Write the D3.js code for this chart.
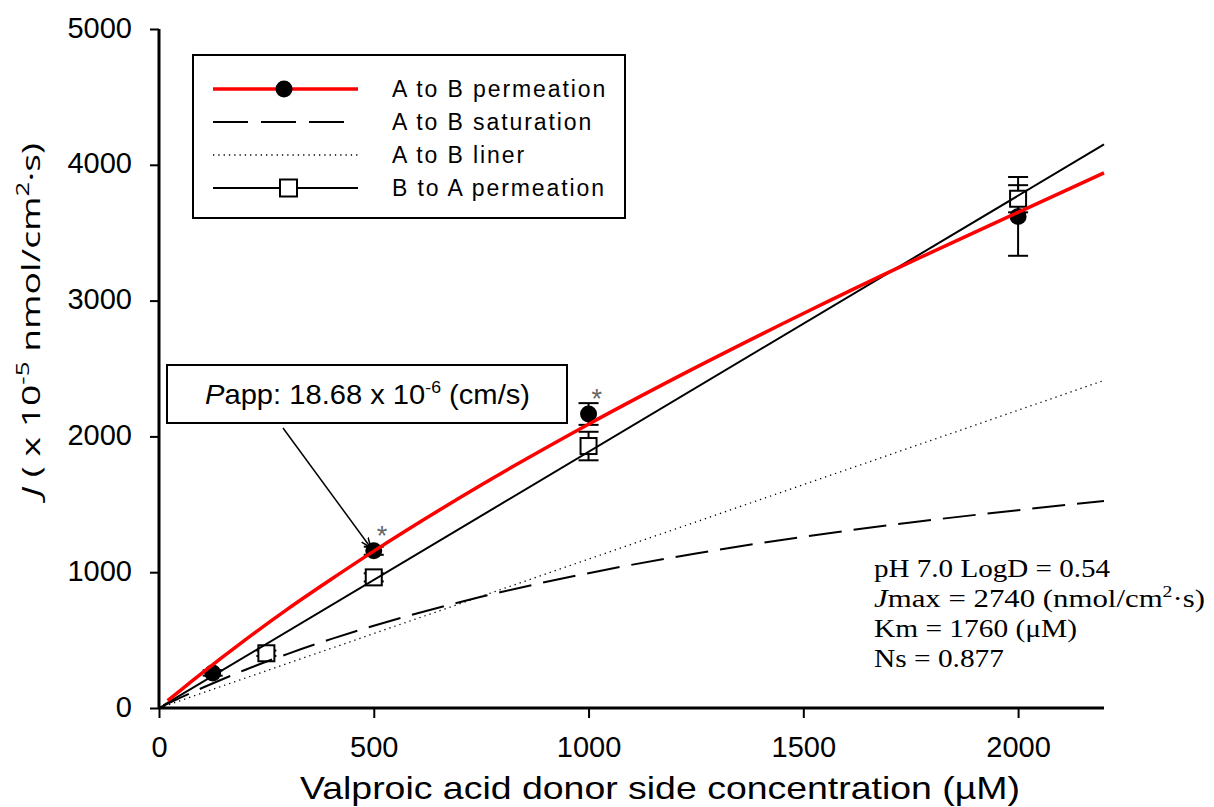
<!DOCTYPE html>
<html><head><meta charset="utf-8">
<script src="https://cdn.jsdelivr.net/npm/d3@7"></script>
<style>
body{margin:0;background:#fff;}
svg{display:block;}
</style></head>
<body>
<svg id="chart" width="1214" height="807"></svg>
<script>
// ---- data ----
const xTicks = [0, 500, 1000, 1500, 2000];
const yTicks = [0, 1000, 2000, 3000, 4000, 5000];

// A to B permeation (measured, filled circles)
const abConc = [125, 500, 1000, 2000];
const abJ    = [258, 1158, 2165, 3620];
const abErr  = [20, 30, 80, 290];

// B to A permeation (measured, open squares)
const baConc = [250, 500, 1000, 2000];
const baJ    = [403, 962, 1929, 3750];
const baErr  = [20, 30, 105, 100];

// A to B permeation fitted curve (red)
const fitConc = [20, 50, 100, 200, 300, 400, 500, 750, 1000, 1250, 1500, 1750, 2000, 2200];
const fitJ    = [55, 130, 257, 500, 730, 946, 1155, 1642, 2090, 2508, 2905, 3285, 3650, 3940];

// A to B saturation (dashed)
const satConc = [0, 50, 100, 200, 300, 400, 500, 750, 1000, 1250, 1500, 1750, 2000, 2200];
const satJ    = [0, 76, 147, 280, 399, 507, 606, 819, 993, 1138, 1261, 1366, 1457, 1525];

// A to B liner (dotted)
const linConc = [0, 2200];
const linJ    = [0, 2412];

// B to A permeation line
const baLineConc = [10, 2200];
const baLineJ    = [19, 4150];

const legendLabels = ["A to B permeation", "A to B saturation", "A to B liner", "B to A permeation"];

// ---- drawing ----
const svg = d3.select("#chart");
const x = d3.scaleLinear().domain([0, 2200]).range([159, 1104]);
const y = d3.scaleLinear().domain([0, 5000]).range([708, 29]);
const sans = "'Liberation Sans', Arial, sans-serif";
const serif = "'Liberation Serif', 'Times New Roman', serif";

// axes
const xAxis = svg.append("g").attr("transform", "translate(0,708)")
  .call(d3.axisBottom(x).tickValues(xTicks).tickSize(10).tickPadding(10).tickFormat(d3.format("d")));
const yAxis = svg.append("g").attr("transform", "translate(159,0)")
  .call(d3.axisLeft(y).tickValues(yTicks).tickSize(9).tickPadding(18).tickFormat(d3.format("d")));
[xAxis, yAxis].forEach(a => {
  a.select(".domain").attr("stroke", "#000").attr("stroke-width", 3);
  a.selectAll(".tick line").attr("stroke", "#000").attr("stroke-width", 2);
  a.selectAll(".tick text").attr("fill", "#000").attr("font-family", sans).attr("font-size", 29);
});
xAxis.select(".domain").attr("d", `M${x(0)},0H${x(2200)}`);
yAxis.select(".domain").attr("d", `M0,${y(0)}V${y(5000)}`);
yAxis.selectAll(".tick text").attr("dy", "0.28em");
xAxis.selectAll(".tick text").attr("dy", "1.0em");

const toPts = (xs, ys) => xs.map((v, i) => [x(v), y(ys[i])]);
const line = d3.line().curve(d3.curveMonotoneX);

// error bars
function errBars(xs, ys, es) {
  const g = svg.append("g").attr("stroke", "#000").attr("stroke-width", 2);
  xs.forEach((v, i) => {
    const cx = x(v), top = y(ys[i] + es[i]), bot = y(ys[i] - es[i]);
    g.append("line").attr("x1", cx).attr("x2", cx).attr("y1", top).attr("y2", bot);
    g.append("line").attr("x1", cx - 10).attr("x2", cx + 10).attr("y1", top).attr("y2", top);
    g.append("line").attr("x1", cx - 10).attr("x2", cx + 10).attr("y1", bot).attr("y2", bot);
  });
}
errBars(baConc, baJ, baErr);
errBars(abConc, abJ, abErr);

// markers
svg.append("g").selectAll("rect").data(baConc).join("rect")
  .attr("x", (d) => x(d) - 8).attr("y", (d, i) => y(baJ[i]) - 8)
  .attr("width", 16).attr("height", 16)
  .attr("fill", "#fff").attr("stroke", "#000").attr("stroke-width", 2);
svg.append("g").selectAll("circle").data(abConc).join("circle")
  .attr("cx", d => x(d)).attr("cy", (d, i) => y(abJ[i])).attr("r", 8.5).attr("fill", "#000");

// lines
svg.append("path").attr("d", line(toPts(linConc, linJ)))
  .attr("fill", "none").attr("stroke", "#000").attr("stroke-width", 1.3).attr("stroke-dasharray", "1.3,4");
svg.append("path").attr("d", line(toPts(satConc, satJ)))
  .attr("fill", "none").attr("stroke", "#000").attr("stroke-width", 2).attr("stroke-dasharray", "33,12");
svg.append("path").attr("d", line(toPts(baLineConc, baLineJ)))
  .attr("fill", "none").attr("stroke", "#000").attr("stroke-width", 2);
svg.append("path").attr("d", line(toPts(fitConc, fitJ)))
  .attr("fill", "none").attr("stroke", "#ff0000").attr("stroke-width", 3.5);

// significance asterisks
[[500, 1158], [1000, 2165]].forEach(([c, j]) => {
  svg.append("text").attr("x", x(c) + 3).attr("y", y(j) - 6)
    .attr("font-family", sans).attr("font-size", 27).attr("fill", "#666").text("*");
});

// legend
const lg = svg.append("g");
lg.append("rect").attr("x", 193).attr("y", 55).attr("width", 432).attr("height", 163)
  .attr("fill", "#fff").attr("stroke", "#000").attr("stroke-width", 2);
const rows = [89, 122, 155, 188];
lg.append("line").attr("x1", 213).attr("x2", 358).attr("y1", rows[0]).attr("y2", rows[0])
  .attr("stroke", "#ff0000").attr("stroke-width", 3.5);
lg.append("circle").attr("cx", 284).attr("cy", rows[0]).attr("r", 8.5).attr("fill", "#000");
lg.append("line").attr("x1", 213).attr("x2", 345).attr("y1", rows[1]).attr("y2", rows[1])
  .attr("stroke", "#000").attr("stroke-width", 2).attr("stroke-dasharray", "35,13");
lg.append("line").attr("x1", 213).attr("x2", 358).attr("y1", rows[2]).attr("y2", rows[2])
  .attr("stroke", "#000").attr("stroke-width", 1.3).attr("stroke-dasharray", "1.3,4");
lg.append("line").attr("x1", 213).attr("x2", 358).attr("y1", rows[3]).attr("y2", rows[3])
  .attr("stroke", "#000").attr("stroke-width", 2);
lg.append("rect").attr("x", 280).attr("y", rows[3] - 8.5).attr("width", 17).attr("height", 17)
  .attr("fill", "#fff").attr("stroke", "#000").attr("stroke-width", 2);
legendLabels.forEach((t, i) => {
  lg.append("text").attr("x", 392).attr("y", rows[i]).attr("dy", "0.36em")
    .attr("font-family", sans).attr("font-size", 23).attr("letter-spacing", 1.9).attr("fill", "#000").text(t);
});

// Papp annotation
svg.append("defs").append("marker").attr("id", "arr").attr("viewBox", "0 0 10 10")
  .attr("refX", 10).attr("refY", 5).attr("markerWidth", 10).attr("markerHeight", 10)
  .attr("markerUnits", "userSpaceOnUse").attr("orient", "auto")
  .append("path").attr("d", "M0,1L10,5L0,9").attr("fill", "none").attr("stroke", "#000").attr("stroke-width", 1.5);
svg.append("line").attr("x1", 283).attr("y1", 428).attr("x2", x(500) - 3).attr("y2", y(1158) - 3)
  .attr("stroke", "#000").attr("stroke-width", 1.5).attr("marker-end", "url(#arr)");
svg.append("rect").attr("x", 167).attr("y", 365).attr("width", 400).attr("height", 58)
  .attr("fill", "#fff").attr("stroke", "#000").attr("stroke-width", 2);
const pt = svg.append("text").attr("x", 205).attr("y", 404)
  .attr("textLength", 325).attr("lengthAdjust", "spacingAndGlyphs")
  .attr("font-family", sans).attr("font-size", 28).attr("fill", "#000");
pt.append("tspan").attr("font-style", "italic").text("P");
pt.append("tspan").text("app: 18.68 x 10");
pt.append("tspan").attr("font-size", 17).attr("dy", -11).text("-6");
pt.append("tspan").attr("dy", 11).text(" (cm/s)");

// fit parameters text
const st = svg.append("g").attr("font-family", serif).attr("font-size", 25).attr("fill", "#000");
st.append("text").attr("x", 874).attr("y", 577)
  .attr("textLength", 236).attr("lengthAdjust", "spacingAndGlyphs").text("pH 7.0 LogD = 0.54");
const jt = st.append("text").attr("x", 874).attr("y", 607)
  .attr("textLength", 331).attr("lengthAdjust", "spacingAndGlyphs");
jt.append("tspan").attr("font-style", "italic").text("J");
jt.append("tspan").text("max = 2740 (nmol/cm");
jt.append("tspan").attr("font-size", 16).attr("dy", -10).text("2");
jt.append("tspan").attr("dy", 10).text("·s)");
st.append("text").attr("x", 874).attr("y", 637)
  .attr("textLength", 203).attr("lengthAdjust", "spacingAndGlyphs").text("Km = 1760 (μM)");
st.append("text").attr("x", 874).attr("y", 667)
  .attr("textLength", 130).attr("lengthAdjust", "spacingAndGlyphs").text("Ns = 0.877");

// axis titles
svg.append("text").attr("x", 300).attr("y", 799)
  .attr("textLength", 720).attr("lengthAdjust", "spacingAndGlyphs")
  .attr("font-family", sans).attr("font-size", 32).attr("fill", "#000")
  .text("Valproic acid donor side concentration (µM)");
const yt = svg.append("text").attr("transform", "translate(40,497) rotate(-90)")
  .attr("textLength", 354).attr("lengthAdjust", "spacingAndGlyphs")
  .attr("font-family", "'Open Sans', sans-serif").attr("font-size", 26).attr("fill", "#000");
yt.append("tspan").attr("font-style", "italic").text("J");
yt.append("tspan").text(" ( x 10");
yt.append("tspan").attr("font-size", 18).attr("dy", -11).text("-5");
yt.append("tspan").attr("dy", 11).text(" nmol/cm");
yt.append("tspan").attr("font-size", 18).attr("dy", -11).text("2");
yt.append("tspan").attr("dy", 11).text("·s)");
</script>
</body></html>
